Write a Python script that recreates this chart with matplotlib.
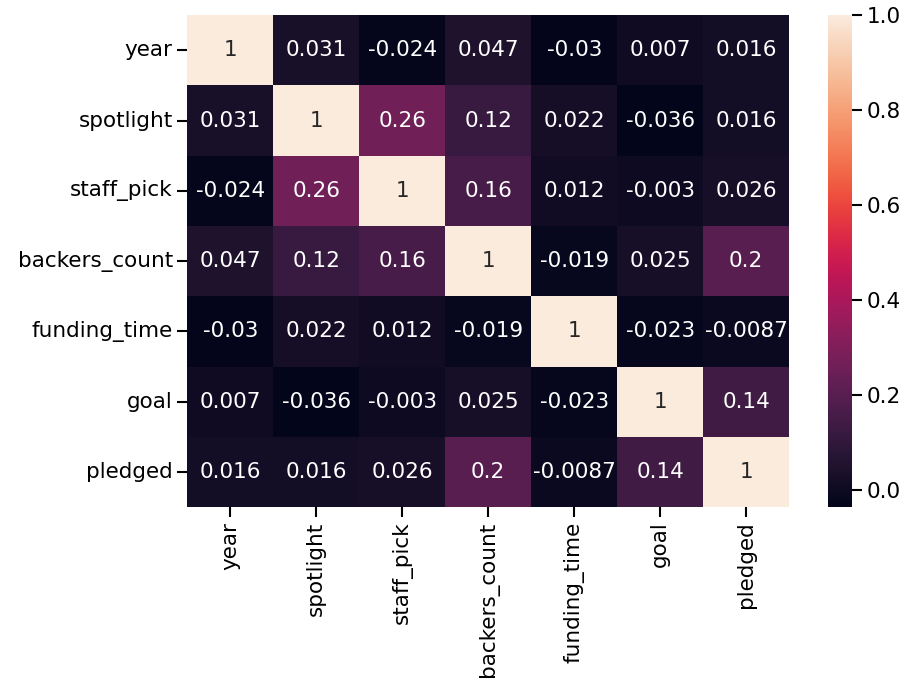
import numpy as np
import pandas as pd
import matplotlib
matplotlib.use("Agg")
import matplotlib.pyplot as plt
import seaborn as sns

# 相关系数矩阵
cols = ["year", "spotlight", "staff_pick", "backers_count", "funding_time", "goal", "pledged"]
row_year = [1, 0.031, -0.024, 0.047, -0.03, 0.007, 0.016]
row_spotlight = [0.031, 1, 0.26, 0.12, 0.022, -0.036, 0.016]
row_staff_pick = [-0.024, 0.26, 1, 0.16, 0.012, -0.003, 0.026]
row_backers = [0.047, 0.12, 0.16, 1, -0.019, 0.025, 0.2]
row_funding = [-0.03, 0.022, 0.012, -0.019, 1, -0.023, -0.0087]
row_goal = [0.007, -0.036, -0.003, 0.025, -0.023, 1, 0.14]
row_pledged = [0.016, 0.016, 0.026, 0.2, -0.0087, 0.14, 1]

corr = pd.DataFrame([row_year, row_spotlight, row_staff_pick, row_backers,
                     row_funding, row_goal, row_pledged], index=cols, columns=cols)

FS = 15.5
plt.rcParams["font.size"] = FS
fig = plt.figure(figsize=(9.05, 6.89), dpi=100)
ax = fig.add_axes([0.207, 0.264, 0.665, 0.714])
cax = fig.add_axes([0.915, 0.264, 0.0265, 0.714])

sns.heatmap(corr, annot=True, ax=ax, cbar_ax=cax, annot_kws={"fontsize": FS})
ax.tick_params(labelsize=FS, length=7, width=1.5)
cax.tick_params(labelsize=FS, length=7, width=1.5)

fig.savefig("out.png", dpi=100)
